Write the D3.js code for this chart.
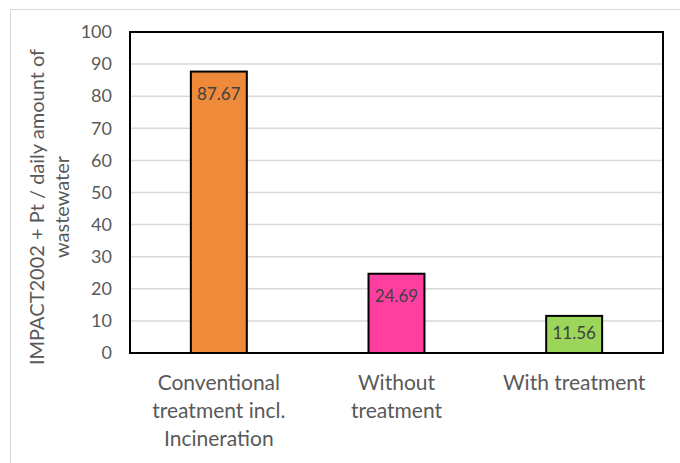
<!DOCTYPE html>
<html>
<head>
<meta charset="utf-8">
<script src="https://cdn.jsdelivr.net/npm/d3@7"></script>
<style>
  html, body { margin: 0; padding: 0; background: #fff; }
  svg { display: block; font-family: Lato, "Open Sans", sans-serif; }
</style>
</head>
<body>
<svg id="chart" width="680" height="463"></svg>
<script>
// Data
const categories = [
  ["Conventional", "treatment incl.", "Incineration"],
  ["Without", "treatment"],
  ["With treatment"]
];
const values = [87.67, 24.69, 11.56];
const barColors = ["#ef8a3a", "#ff3fa0", "#9bd65a"];
const yTicks = [0, 10, 20, 30, 40, 50, 60, 70, 80, 90, 100];
const yTitle = ["IMPACT2002 + Pt / daily amount of", "wastewater"];

const svg = d3.select("#chart");
const W = 680, H = 463;
const plot = { left: 130, top: 32, right: 663, bottom: 353 };

// Chart area frame
svg.append("rect")
  .attr("x", 10.5).attr("y", 9.5)
  .attr("width", W).attr("height", H)
  .attr("fill", "#fff").attr("stroke", "#d9d9d9").attr("stroke-width", 1);

const x = d3.scaleBand()
  .domain(d3.range(values.length))
  .range([plot.left, plot.right])
  .padding(0);
const y = d3.scaleLinear().domain([0, 100]).range([plot.bottom, plot.top]);
const barW = x.bandwidth() * 0.315;

// Gridlines
svg.append("g").selectAll("line")
  .data(yTicks)
  .join("line")
  .attr("x1", plot.left).attr("x2", plot.right)
  .attr("y1", d => y(d)).attr("y2", d => y(d))
  .attr("stroke", "#d9d9d9").attr("stroke-width", 1.5);

// Y tick labels
const yAxis = d3.axisLeft(y).tickValues(yTicks).tickSize(0).tickPadding(18);
const gy = svg.append("g").attr("transform", `translate(${plot.left},0)`).call(yAxis);
gy.select(".domain").remove();
gy.selectAll("text")
  .attr("font-family", "Lato, 'Open Sans', sans-serif")
  .attr("font-size", 18).attr("fill", "#595959");

// Bars
svg.append("g").selectAll("rect")
  .data(values)
  .join("rect")
  .attr("x", (d, i) => x(i) + (x.bandwidth() - barW) / 2)
  .attr("y", d => y(d))
  .attr("width", barW)
  .attr("height", d => y(0) - y(d))
  .attr("fill", (d, i) => barColors[i])
  .attr("stroke", "#000").attr("stroke-width", 2);

// Value labels inside bar ends
svg.append("g").selectAll("text")
  .data(values)
  .join("text")
  .attr("x", (d, i) => x(i) + x.bandwidth() / 2)
  .attr("y", d => {
    const h = y(0) - y(d);
    return y(d) + Math.min(22, h / 2 - 1.5);
  })
  .attr("dy", "0.35em")
  .attr("text-anchor", "middle")
  .attr("font-size", 17)
  .attr("fill", "#404040")
  .text(d => d.toFixed(2));

// Plot area border
svg.append("rect")
  .attr("x", plot.left).attr("y", plot.top)
  .attr("width", plot.right - plot.left).attr("height", plot.bottom - plot.top)
  .attr("fill", "none").attr("stroke", "#000").attr("stroke-width", 2);

// Category labels
const cat = svg.append("g").selectAll("text")
  .data(categories)
  .join("text")
  .attr("x", (d, i) => x(i) + x.bandwidth() / 2)
  .attr("y", 383)
  .attr("text-anchor", "middle")
  .attr("font-size", 21)
  .attr("fill", "#595959");
cat.selectAll("tspan")
  .data(d => d)
  .join("tspan")
  .attr("x", function () { return d3.select(this.parentNode).attr("x"); })
  .attr("dy", (d, i) => i === 0 ? "0.35em" : 28)
  .text(d => d);

// Y axis title
const title = svg.append("text")
  .attr("transform", `translate(37,207) rotate(-90)`)
  .attr("text-anchor", "middle")
  .attr("font-size", 20)
  .attr("fill", "#595959");
title.selectAll("tspan")
  .data(yTitle)
  .join("tspan")
  .attr("x", 0)
  .attr("dy", (d, i) => i === 0 ? "0.35em" : 25)
  .text(d => d);
</script>
</body>
</html>
